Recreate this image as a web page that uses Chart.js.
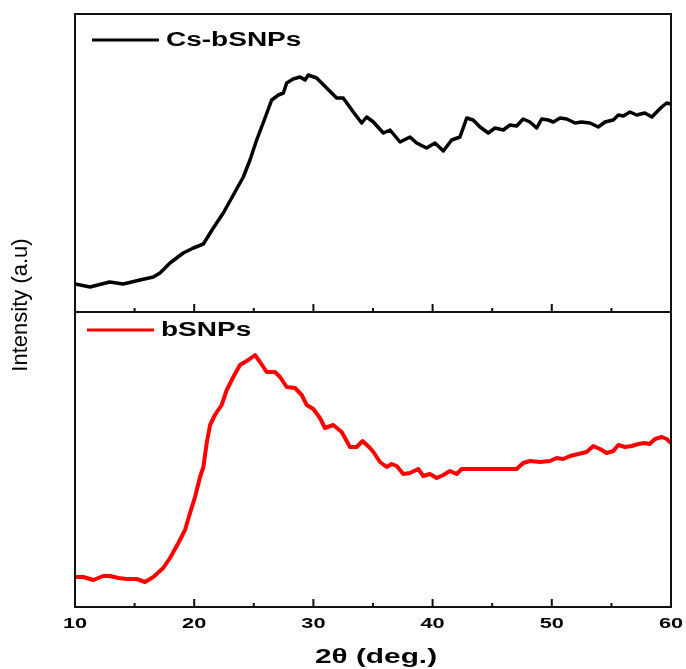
<!DOCTYPE html>
<html><head><meta charset="utf-8">
<script src="https://cdn.jsdelivr.net/npm/chart.js@4.4.1/dist/chart.umd.min.js"></script>
<style>html,body{margin:0;padding:0;background:#fff;}#wrap{position:relative;width:686px;height:669px;}</style>
</head><body><div id="wrap"><canvas id="c" width="686" height="669"></canvas></div>
<script>
// ---- data ----
const csX = [10,11.26,12.9,14.05,15.45,16.57,17.13,17.97,19.08,19.93,20.77,21.6,22.44,23.28,24.12,24.68,25.24,25.94,26.5,27.06,27.48,27.76,28.3,28.88,29.3,29.57,30.27,31.11,31.95,32.5,33.35,34.05,34.47,35.03,35.87,36.43,37.27,38.1,38.66,39.5,40.2,40.9,41.6,42.3,42.86,43.4,43.98,44.67,45.23,45.93,46.49,47.05,47.6,48.17,48.73,49.15,49.7,50.13,50.7,51.25,51.95,52.5,53.2,53.9,54.46,55.16,55.58,56,56.56,57.12,57.8,58.4,58.8,59.22,59.64,60];
const csY = [28,25,30,28,32,35,39,49,59,64,68,84,99,117,135,152,172,194,212,217,219,229,233,235,232,237,234,224,214,214,200,189,195,190,179,182,170,175,169,164,169,161,172,175,194,192,185,179,184,182,187,186,193,190,184,193,192,190,194,193,189,190,189,185,190,192,197,196,200,197,199,195,200,205,209,208];
const bX = [10,10.7,11.54,12.37,12.94,13.63,14.34,15.18,15.87,16.57,17.4,17.97,18.67,19.23,19.65,20.07,20.49,20.77,21.05,21.33,21.74,22.3,22.73,23.28,23.84,24.54,25.1,25.52,26.08,26.78,27.2,27.76,28.46,29.02,29.44,29.99,30.55,30.97,31.67,32.37,33.07,33.63,34.13,34.75,35.03,35.59,36.15,36.57,36.99,37.54,38.1,38.8,39.22,39.78,40.34,40.9,41.46,42.02,42.44,47.05,47.6,48.17,49,49.85,50.4,50.96,51.53,52.22,52.92,53.48,54.04,54.6,55.16,55.58,56.14,56.7,57.26,57.8,58.2,58.66,59.22,59.64,60];
const bY = [30,30,27,31,31,29,28,28,25,30,39,49,64,77,94,110,130,140,164,182,192,202,217,230,242,247,252,245,235,235,230,220,219,212,202,198,189,179,182,175,160,160,166,159,155,145,140,143,141,133,134,138,131,133,129,132,136,133,138,138,144,146,145,146,149,148,151,153,155,161,158,154,156,162,160,161,163,164,163,168,170,168,164];
const seriesNames = ['Cs-bSNPs', 'bSNPs'];
const seriesColors = ['#000000', '#ff0000'];
const xTicks = [10, 20, 30, 40, 50, 60];
const xMinorTicks = [15, 25, 35, 45, 55];
const xTitle = '2\u03B8 (deg.)';
const yTitle = 'Intensity (a.u)';

const toPts = (xs, ys) => xs.map((x, i) => ({x: x, y: ys[i]}));
const FONT = '"Liberation Sans", Arial, sans-serif';

function stretchText(ctx, text, x, y, sx, align, font) {
  ctx.save();
  ctx.translate(x, y);
  ctx.scale(sx, 1);
  ctx.font = font;
  ctx.textAlign = align;
  ctx.textBaseline = 'middle';
  ctx.fillText(text, 0, 0);
  ctx.restore();
}

const deco = {
  id: 'deco',
  afterDraw(chart) {
    const ctx = chart.ctx;
    const xs = chart.scales.x;
    const panels = [chart.scales.yTop, chart.scales.yBot];
    const L = chart.chartArea.left, R = chart.chartArea.right;
    ctx.save();
    ctx.strokeStyle = '#111';
    ctx.lineWidth = 2;
    panels.forEach(s => {
      ctx.strokeRect(L, s.top, R - L, s.bottom - s.top);
      ctx.beginPath();
      xTicks.forEach(v => { const p = xs.getPixelForValue(v); ctx.moveTo(p, s.bottom); ctx.lineTo(p, s.bottom - 8); });
      xMinorTicks.forEach(v => { const p = xs.getPixelForValue(v); ctx.moveTo(p, s.bottom); ctx.lineTo(p, s.bottom - 4); });
      ctx.stroke();
    });
    // legends
    panels.forEach((s, i) => {
      const ly = s.top + (i === 0 ? 26 : 18);
      const lx = L + (i === 0 ? 17 : 12);
      ctx.strokeStyle = seriesColors[i];
      ctx.lineWidth = 3;
      ctx.beginPath(); ctx.moveTo(lx, ly); ctx.lineTo(lx + 67, ly); ctx.stroke();
      ctx.fillStyle = '#000';
      stretchText(ctx, seriesNames[i], lx + 74, ly, 1.4, 'left', 'bold 20px ' + FONT);
    });
    // x tick labels
    ctx.fillStyle = '#000';
    const yb = chart.scales.yBot.bottom;
    xTicks.forEach(v => {
      stretchText(ctx, String(v), xs.getPixelForValue(v), yb + 17, 1.45, 'center', 'bold 15px ' + FONT);
    });
    // x title
    stretchText(ctx, xTitle, (L + R) / 2 + 3, yb + 50, 1.42, 'center', 'bold 21px ' + FONT);
    // y title
    ctx.save();
    ctx.translate(21, 305);
    ctx.rotate(-Math.PI / 2);
    ctx.font = '22px ' + FONT;
    ctx.textAlign = 'center';
    ctx.textBaseline = 'middle';
    ctx.fillText(yTitle, 0, 0);
    ctx.restore();
    ctx.restore();
  }
};

const hidden = {display: true, ticks: {display: false}, grid: {display: false, drawTicks: false}, border: {display: false}};

new Chart(document.getElementById('c'), {
  type: 'line',
  data: {
    datasets: [
      {label: seriesNames[0], data: toPts(csX, csY), yAxisID: 'yTop', borderColor: seriesColors[0], borderWidth: 3.5, pointRadius: 0, tension: 0, borderJoinStyle: 'round', borderCapStyle: 'round'},
      {label: seriesNames[1], data: toPts(bX, bY), yAxisID: 'yBot', borderColor: seriesColors[1], borderWidth: 4, pointRadius: 0, tension: 0, borderJoinStyle: 'round', borderCapStyle: 'round'}
    ]
  },
  options: {
    responsive: false,
    animation: false,
    devicePixelRatio: 1,
    layout: {padding: {left: 75, right: 15, top: 14, bottom: 62}},
    plugins: {legend: {display: false}, tooltip: {enabled: false}},
    scales: {
      x: Object.assign({type: 'linear', min: 10, max: 60}, hidden),
      yBot: Object.assign({type: 'linear', position: 'left', min: 0, max: 295, stack: 'panels', stackWeight: 295}, hidden),
      yTop: Object.assign({type: 'linear', position: 'left', min: 0, max: 298, stack: 'panels', stackWeight: 298}, hidden)
    }
  },
  plugins: [deco]
});
</script></body></html>
